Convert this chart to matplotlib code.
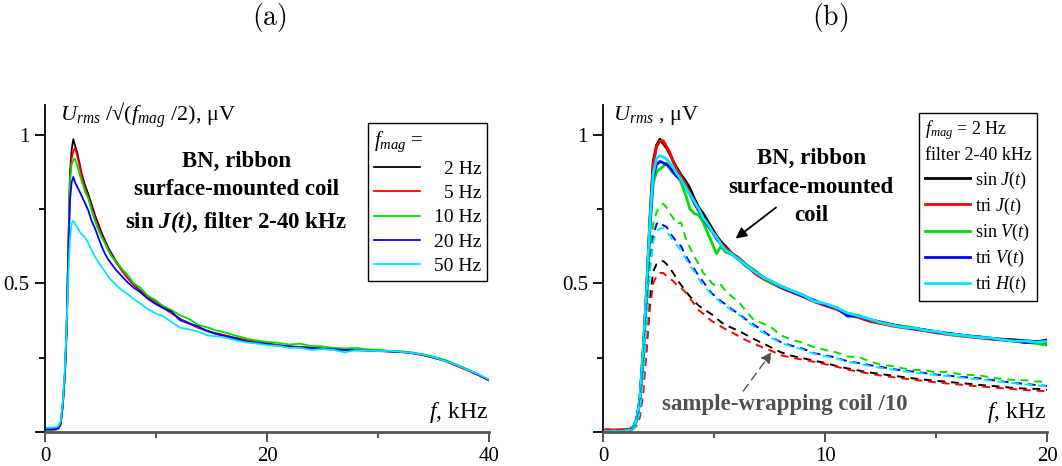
import matplotlib
matplotlib.use('Agg')
import matplotlib.pyplot as plt

plt.rcParams['font.family'] = ['Liberation Serif', 'DejaVu Serif']
plt.rcParams['mathtext.fontset'] = 'custom'
plt.rcParams['mathtext.rm'] = 'Liberation Serif'
plt.rcParams['mathtext.it'] = 'Liberation Serif:italic'
plt.rcParams['mathtext.bf'] = 'Liberation Serif:bold'
try:
    plt.rcParams['mathtext.bfit'] = 'Liberation Serif:italic:bold'
except KeyError:
    pass

# ---------------- data: panel (a) ----------------
F_A = [0, 0.5, 1.0, 1.2, 1.4, 1.6, 1.8, 1.95, 2.1, 2.25, 2.4, 2.55, 2.7, 2.9, 3.1,
       3.3, 3.6, 3.9, 4.2, 4.5, 4.8, 5.1, 5.4, 5.7, 6.0, 6.4, 6.9, 7.4, 8.0, 8.6,
       9.2, 9.9, 10.6, 11.4, 12.2, 13.0, 13.8, 14.6, 15.4, 16.2, 17, 18, 19, 20, 21,
       22, 23, 24, 25, 26, 27, 28, 29, 30, 31, 32, 33, 34, 35, 36, 37, 38, 39, 40]

A_2HZ = [0.008, 0.008, 0.009, 0.012, 0.025, 0.09, 0.2, 0.36, 0.62, 0.87, 0.95, 0.985, 0.965, 0.94, 0.905,
         0.87, 0.83, 0.80, 0.765, 0.73, 0.70, 0.67, 0.645, 0.62, 0.60, 0.575, 0.545, 0.52, 0.495, 0.475,
         0.455, 0.44, 0.42, 0.40, 0.38, 0.365, 0.352, 0.34, 0.332, 0.325, 0.318, 0.31, 0.303, 0.298, 0.292,
         0.288, 0.286, 0.283, 0.281, 0.279, 0.277, 0.276, 0.275, 0.274, 0.272, 0.27, 0.266, 0.26, 0.251, 0.24,
         0.225, 0.21, 0.193, 0.175]
A_5HZ = [0.008, 0.008, 0.009, 0.012, 0.025, 0.09, 0.2, 0.35, 0.6, 0.86, 0.92, 0.945, 0.955, 0.93, 0.895,
         0.86, 0.82, 0.79, 0.755, 0.72, 0.69, 0.66, 0.64, 0.615, 0.595, 0.57, 0.545, 0.52, 0.495, 0.472,
         0.455, 0.438, 0.418, 0.40, 0.378, 0.366, 0.35, 0.341, 0.33, 0.325, 0.316, 0.309, 0.304, 0.296, 0.293,
         0.287, 0.285, 0.284, 0.28, 0.278, 0.278, 0.275, 0.276, 0.273, 0.271, 0.27, 0.265, 0.259, 0.25, 0.239,
         0.224, 0.208, 0.192, 0.173]
A_10HZ = [0.008, 0.008, 0.009, 0.012, 0.025, 0.09, 0.2, 0.35, 0.6, 0.84, 0.90, 0.915, 0.92, 0.895, 0.87,
          0.845, 0.81, 0.785, 0.745, 0.71, 0.68, 0.655, 0.635, 0.61, 0.59, 0.575, 0.55, 0.53, 0.50, 0.485,
          0.46, 0.445, 0.425, 0.41, 0.392, 0.38, 0.36, 0.352, 0.342, 0.335, 0.326, 0.316, 0.308, 0.303, 0.30,
          0.294, 0.297, 0.289, 0.288, 0.283, 0.281, 0.283, 0.278, 0.277, 0.273, 0.272, 0.268, 0.262, 0.254, 0.243,
          0.228, 0.212, 0.195, 0.176]
A_20HZ = [0.009, 0.009, 0.01, 0.013, 0.027, 0.09, 0.2, 0.34, 0.58, 0.78, 0.84, 0.858, 0.84, 0.825, 0.81,
          0.795, 0.77, 0.745, 0.71, 0.685, 0.655, 0.625, 0.60, 0.58, 0.565, 0.545, 0.525, 0.505, 0.485, 0.47,
          0.45, 0.432, 0.418, 0.405, 0.375, 0.365, 0.355, 0.34, 0.33, 0.322, 0.316, 0.305, 0.30, 0.295, 0.29,
          0.288, 0.284, 0.282, 0.279, 0.278, 0.276, 0.275, 0.274, 0.272, 0.271, 0.269, 0.266, 0.26, 0.25, 0.24,
          0.226, 0.21, 0.193, 0.175]
A_50HZ = [0.015, 0.015, 0.016, 0.02, 0.035, 0.1, 0.22, 0.36, 0.52, 0.65, 0.70, 0.711, 0.70, 0.69, 0.675,
          0.665, 0.655, 0.635, 0.612, 0.59, 0.572, 0.555, 0.54, 0.522, 0.51, 0.495, 0.478, 0.465, 0.447, 0.432,
          0.415, 0.40, 0.39, 0.37, 0.35, 0.345, 0.338, 0.325, 0.322, 0.318, 0.31, 0.302, 0.298, 0.292, 0.29,
          0.283, 0.283, 0.276, 0.279, 0.276, 0.268, 0.275, 0.274, 0.272, 0.273, 0.27, 0.266, 0.261, 0.252, 0.239,
          0.227, 0.21, 0.195, 0.177]
A_LABELS = ['2 Hz', '5 Hz', '10 Hz', '20 Hz', '50 Hz']

# ---------------- data: panel (b) ----------------
F_B = [0, 0.5, 1.0, 1.2, 1.35, 1.5, 1.65, 1.8, 1.95, 2.1, 2.25, 2.4, 2.55, 2.7, 2.85,
       3.0, 3.15, 3.3, 3.5, 3.7, 3.9, 4.1, 4.3, 4.5, 4.7, 4.9, 5.1, 5.3, 5.5, 5.8,
       6.1, 6.4, 6.8, 7.2, 7.6, 8.0, 8.5, 9.0, 9.5, 10.0, 10.5, 11.0, 11.5, 12.0, 12.5,
       13.0, 13.5, 14.0, 14.5, 15.0, 15.5, 16.0, 16.5, 17.0, 17.5, 18.0, 18.5, 19.0, 19.5, 20.0]

# surface-mounted coil (solid)
B_SIN_J = [0.003, 0.003, 0.004, 0.006, 0.015, 0.04, 0.11, 0.28, 0.48, 0.72, 0.91, 0.965, 0.985, 0.97, 0.955,
           0.935, 0.91, 0.89, 0.865, 0.845, 0.82, 0.785, 0.755, 0.735, 0.71, 0.685, 0.66, 0.64, 0.625, 0.60,
           0.585, 0.565, 0.54, 0.52, 0.505, 0.49, 0.475, 0.46, 0.44, 0.428, 0.415, 0.398, 0.388, 0.378, 0.366,
           0.36, 0.355, 0.349, 0.343, 0.337, 0.332, 0.327, 0.323, 0.319, 0.315, 0.312, 0.31, 0.307, 0.304, 0.302]
B_TRI_J = [0.007, 0.007, 0.008, 0.01, 0.018, 0.04, 0.1, 0.26, 0.46, 0.7, 0.9, 0.96, 0.978, 0.98, 0.96,
           0.94, 0.91, 0.885, 0.86, 0.835, 0.805, 0.775, 0.745, 0.72, 0.70, 0.675, 0.655, 0.635, 0.62, 0.60,
           0.585, 0.565, 0.535, 0.515, 0.50, 0.485, 0.47, 0.455, 0.438, 0.425, 0.413, 0.395, 0.385, 0.372, 0.365,
           0.357, 0.351, 0.346, 0.34, 0.334, 0.328, 0.324, 0.32, 0.316, 0.312, 0.309, 0.306, 0.303, 0.301, 0.299]
B_SIN_V = [0.003, 0.003, 0.004, 0.006, 0.015, 0.04, 0.11, 0.27, 0.46, 0.68, 0.84, 0.875, 0.885, 0.893, 0.905,
           0.885, 0.87, 0.865, 0.84, 0.80, 0.75, 0.735, 0.73, 0.705, 0.67, 0.635, 0.60, 0.625, 0.605, 0.598,
           0.582, 0.565, 0.545, 0.52, 0.50, 0.49, 0.472, 0.458, 0.44, 0.43, 0.418, 0.40, 0.392, 0.378, 0.368,
           0.36, 0.356, 0.35, 0.342, 0.338, 0.33, 0.325, 0.322, 0.32, 0.315, 0.31, 0.306, 0.302, 0.298, 0.292]
B_TRI_V = [0.003, 0.003, 0.004, 0.006, 0.015, 0.04, 0.11, 0.27, 0.47, 0.70, 0.86, 0.90, 0.91, 0.905, 0.90,
           0.89, 0.875, 0.86, 0.85, 0.825, 0.80, 0.77, 0.745, 0.72, 0.695, 0.675, 0.65, 0.632, 0.612, 0.598,
           0.58, 0.56, 0.54, 0.52, 0.505, 0.488, 0.472, 0.457, 0.443, 0.428, 0.418, 0.39, 0.39, 0.378, 0.37,
           0.362, 0.352, 0.348, 0.343, 0.336, 0.331, 0.327, 0.322, 0.319, 0.314, 0.311, 0.306, 0.301, 0.303, 0.31]
B_TRI_H = [0.003, 0.003, 0.004, 0.006, 0.015, 0.04, 0.11, 0.28, 0.48, 0.71, 0.87, 0.92, 0.93, 0.925, 0.918,
           0.905, 0.89, 0.87, 0.85, 0.825, 0.80, 0.775, 0.75, 0.72, 0.70, 0.675, 0.655, 0.632, 0.612, 0.598,
           0.58, 0.562, 0.54, 0.52, 0.506, 0.49, 0.475, 0.46, 0.44, 0.432, 0.418, 0.40, 0.39, 0.38, 0.368,
           0.36, 0.352, 0.35, 0.342, 0.338, 0.33, 0.327, 0.322, 0.318, 0.316, 0.31, 0.305, 0.306, 0.302, 0.305]

# sample-wrapping coil / 10 (dashed)
W_SIN_J = [0.003, 0.003, 0.004, 0.005, 0.01, 0.025, 0.07, 0.16, 0.30, 0.45, 0.54, 0.565, 0.573, 0.575, 0.565,
           0.55, 0.535, 0.515, 0.495, 0.475, 0.456, 0.44, 0.425, 0.415, 0.405, 0.395, 0.382, 0.37, 0.36, 0.35,
           0.34, 0.328, 0.312, 0.298, 0.283, 0.268, 0.256, 0.248, 0.24, 0.232, 0.222, 0.214, 0.207, 0.20, 0.195,
           0.19, 0.185, 0.18, 0.176, 0.172, 0.169, 0.165, 0.162, 0.158, 0.155, 0.152, 0.148, 0.146, 0.145, 0.143]
W_TRI_J = [0.008, 0.008, 0.008, 0.009, 0.012, 0.02, 0.05, 0.13, 0.27, 0.42, 0.50, 0.525, 0.535, 0.535, 0.525,
           0.515, 0.508, 0.495, 0.485, 0.47, 0.45, 0.43, 0.41, 0.398, 0.385, 0.372, 0.365, 0.355, 0.346, 0.335,
           0.322, 0.31, 0.296, 0.284, 0.272, 0.258, 0.25, 0.243, 0.236, 0.228, 0.22, 0.21, 0.203, 0.196, 0.19,
           0.185, 0.18, 0.176, 0.171, 0.167, 0.163, 0.16, 0.156, 0.153, 0.15, 0.147, 0.144, 0.141, 0.139, 0.137]
W_SIN_V = [0.003, 0.003, 0.004, 0.005, 0.012, 0.03, 0.09, 0.22, 0.42, 0.60, 0.70, 0.74, 0.76, 0.768, 0.755,
           0.735, 0.72, 0.70, 0.705, 0.655, 0.62, 0.59, 0.565, 0.535, 0.52, 0.50, 0.49, 0.495, 0.475, 0.455,
           0.438, 0.41, 0.375, 0.365, 0.35, 0.325, 0.31, 0.30, 0.285, 0.276, 0.268, 0.254, 0.252, 0.238, 0.226,
           0.222, 0.214, 0.209, 0.208, 0.20, 0.203, 0.195, 0.192, 0.19, 0.182, 0.178, 0.175, 0.174, 0.17, 0.169]
W_TRI_V = [0.003, 0.003, 0.004, 0.005, 0.011, 0.028, 0.08, 0.20, 0.38, 0.56, 0.66, 0.70, 0.707, 0.695, 0.69,
           0.67, 0.655, 0.64, 0.625, 0.595, 0.57, 0.548, 0.525, 0.505, 0.485, 0.465, 0.455, 0.44, 0.43, 0.412,
           0.398, 0.38, 0.36, 0.34, 0.318, 0.302, 0.29, 0.28, 0.265, 0.258, 0.25, 0.238, 0.232, 0.225, 0.219,
           0.212, 0.207, 0.203, 0.198, 0.193, 0.19, 0.186, 0.183, 0.18, 0.175, 0.17, 0.165, 0.162, 0.158, 0.155]
W_TRI_H = [0.003, 0.003, 0.004, 0.005, 0.01, 0.025, 0.07, 0.18, 0.36, 0.54, 0.64, 0.675, 0.685, 0.685, 0.675,
           0.66, 0.645, 0.63, 0.61, 0.585, 0.56, 0.54, 0.515, 0.495, 0.478, 0.46, 0.448, 0.435, 0.425, 0.408,
           0.395, 0.375, 0.355, 0.335, 0.315, 0.30, 0.287, 0.277, 0.263, 0.255, 0.248, 0.236, 0.23, 0.222, 0.216,
           0.21, 0.205, 0.20, 0.196, 0.191, 0.188, 0.184, 0.18, 0.177, 0.172, 0.168, 0.164, 0.16, 0.157, 0.153]
B_LABELS = [r'sin $\mathit{J(t)}$', r'tri $\mathit{J(t)}$', r'sin $\mathit{V(t)}$',
            r'tri $\mathit{V(t)}$', r'tri $\mathit{H(t)}$']

COLORS = ['#000000', '#ff0000', '#00dd00', '#0000ff', '#00e8ff']

# ---------------- figure ----------------
W, H = 1062, 466
fig = plt.figure(figsize=(W / 100, H / 100), dpi=100)
axA = fig.add_axes([45 / W, 1 - 432 / H, 444 / W, 327 / H])
axB = fig.add_axes([603.3 / W, 1 - 432 / H, 444 / W, 327 / H])

for ax, xmax, major, minor in [(axA, 40, [0, 20, 40], [10, 30]),
                               (axB, 20, [0, 10, 20], [5, 15])]:
    ax.set_xlim(0, xmax)
    ax.set_ylim(0, 1.1)
    ax.spines['top'].set_visible(False)
    ax.spines['right'].set_visible(False)
    ax.spines['bottom'].set_color('#555555')
    ax.spines['bottom'].set_linewidth(2.0)
    ax.spines['left'].set_linewidth(1.3)
    ax.set_xticks(major)
    ax.set_xticklabels([str(m) for m in major])
    ax.set_xticks(minor, minor=True)
    ax.set_yticks([0, 0.5, 1])
    ax.set_yticklabels(['', '0.5', '1'])
    ax.set_yticks([0.25, 0.75], minor=True)
    ax.tick_params(which='major', direction='out', length=7, width=1.3, labelsize=15, pad=4)
    ax.tick_params(which='minor', direction='out', length=4, width=1.3)
    ax.tick_params(axis='x', which='both', color='#444444')
    ax.text(0.997, 0.061, r'$f$, kHz', transform=ax.transAxes, ha='right', va='center', fontsize=17)

# panel (a)
for ys, c, lab in zip([A_2HZ, A_5HZ, A_10HZ, A_20HZ, A_50HZ], COLORS, A_LABELS):
    axA.plot(F_A, ys, color=c, lw=1.3, label=lab)

axA.text(0.034, 0.969, r'$U_{rms}$ /√($f_{mag}$ /2), μV', transform=axA.transAxes,
         ha='left', va='center', fontsize=16)
axA.text(0.431, 0.731, 'BN, ribbon\nsurface-mounted coil\n' + r'sin $\mathbfit{J(t)}$, filter 2-40 kHz',
         transform=axA.transAxes, ha='center', va='center', fontsize=16.5, fontweight='bold',
         linespacing=1.45)

legA = axA.legend(loc='upper right', bbox_to_anchor=(0.996, 0.944), title=r'$f_{mag}$ =',
                  fontsize=14, title_fontsize=15, frameon=True, fancybox=False,
                  edgecolor='black', framealpha=1, handlelength=2.4, handletextpad=0.7,
                  labelspacing=0.34, borderpad=0.3, borderaxespad=0, alignment='left')
legA.get_frame().set_linewidth(1.0)

# panel (b)
for ys, c, lab in zip([B_SIN_J, B_TRI_J, B_SIN_V, B_TRI_V, B_TRI_H], COLORS, B_LABELS):
    axB.plot(F_B, ys, color=c, lw=2.0, label=lab)
for ys, c in zip([W_SIN_J, W_TRI_J, W_SIN_V, W_TRI_V, W_TRI_H], COLORS):
    axB.plot(F_B, ys, color=c, lw=1.4, dashes=(4.0, 3.0))

axB.text(0.0225, 0.969, r'$U_{rms}$ , μV', transform=axB.transAxes,
         ha='left', va='center', fontsize=16)
axB.text(0.468, 0.749, 'BN, ribbon\nsurface-mounted\ncoil', transform=axB.transAxes,
         ha='center', va='center', fontsize=16.5, fontweight='bold', linespacing=1.45)
axB.annotate('', xy=(5.86, 0.645), xytext=(7.88, 0.761),
             arrowprops=dict(arrowstyle='-|>', color='black', lw=1.3, mutation_scale=16))
axB.text(0.4086, 0.083, 'sample-wrapping coil /10', transform=axB.transAxes,
         ha='center', va='center', fontsize=16.5, fontweight='bold', color='#505050')
axB.annotate('', xy=(7.66, 0.276), xytext=(6.23, 0.130),
             arrowprops=dict(arrowstyle='-|>', color='#505050', lw=1.0, ls=(0, (6, 4)),
                             mutation_scale=16))

legB = axB.legend(loc='upper right', bbox_to_anchor=(0.977, 0.976),
                  title=r'$f_{mag}$ = 2 Hz' + '\nfilter 2-40 kHz',
                  fontsize=13, title_fontsize=13, frameon=True, fancybox=False,
                  edgecolor='black', framealpha=1, handlelength=2.5, handletextpad=0.3,
                  labelspacing=0.28, borderpad=0.3, borderaxespad=0, alignment='left')
legB.get_frame().set_linewidth(1.0)
legB.get_title().set_linespacing(1.4)

fig.text(269 / W, 1 - 18 / H, r'$\mathrm{(a)}$', ha='center', va='center', fontsize=20,
         math_fontfamily='cm')
fig.text(830 / W, 1 - 18 / H, r'$\mathrm{(b)}$', ha='center', va='center', fontsize=20,
         math_fontfamily='cm')

# right-align labels of legend (a)
fig.canvas.draw()
rend = fig.canvas.get_renderer()
texts = legA.get_texts()
widths = [t.get_window_extent(rend).width for t in texts]
wmax = max(widths)
for t, w in zip(texts, widths):
    t.set_position((wmax - w, 0))

fig.savefig('out.png', dpi=100)
